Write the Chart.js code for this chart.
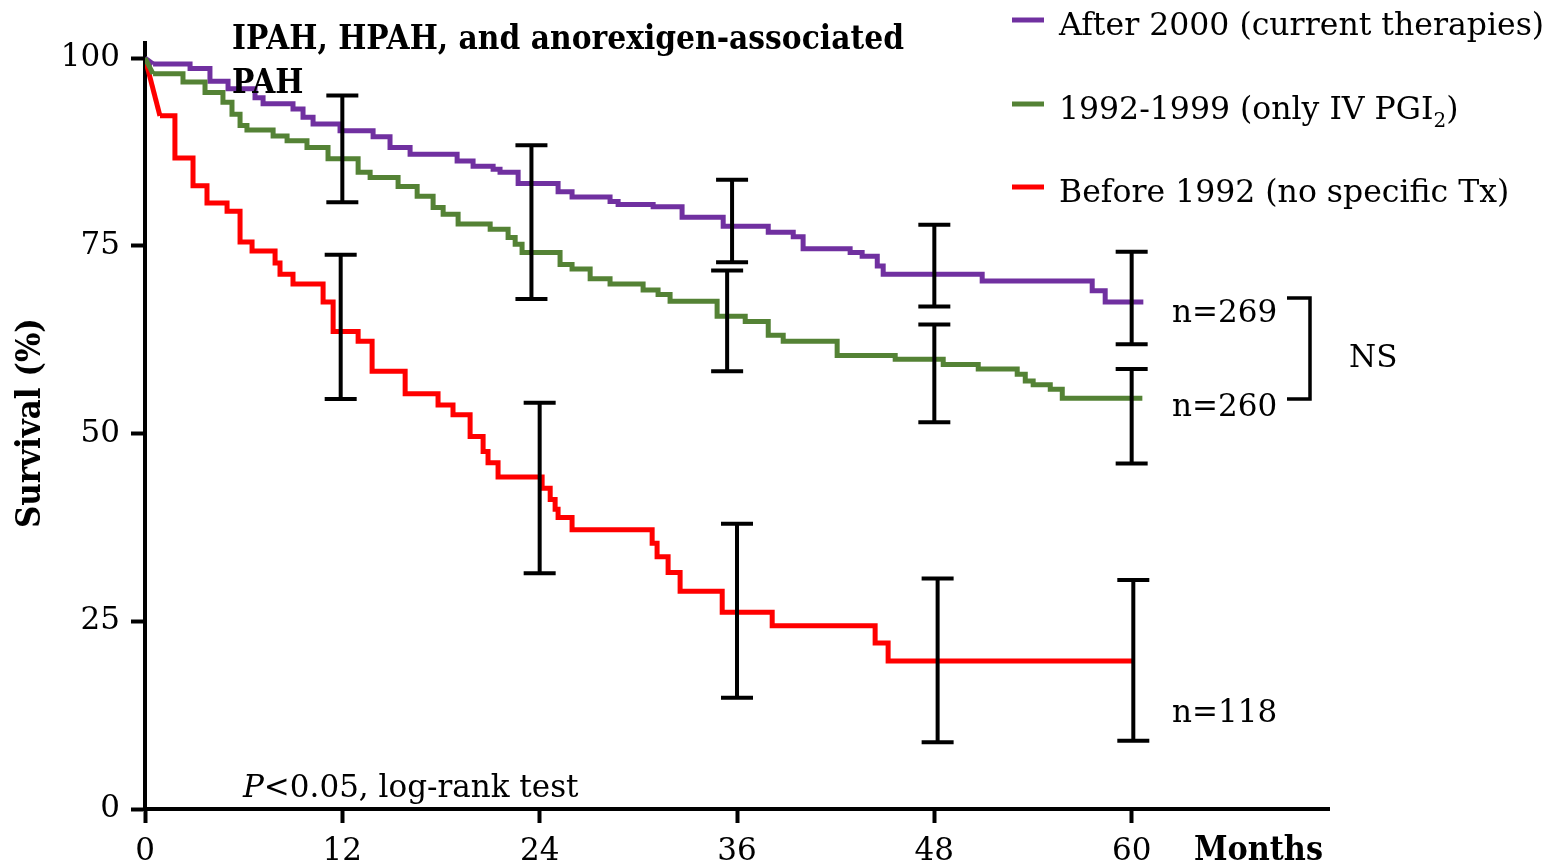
<!doctype html>
<html lang="en">
<head>
<meta charset="utf-8">
<title>Survival by treatment era</title>
<script src="https://cdn.jsdelivr.net/npm/chart.js@4.4.1/dist/chart.umd.min.js"></script>
<style>
  html, body { margin: 0; padding: 0; background: #fff; }
  #wrap { width: 1552px; height: 868px; }
</style>
</head>
<body>
<div id="wrap"><canvas id="km" width="1552" height="868"></canvas></div>
<script>
// Kaplan-Meier curves: month of each drop and the survival (%) after it
var afterMonths = [0.49, 2.74, 3.95, 5.05, 6.69, 7.18, 9.00, 9.61, 10.22, 11.86, 13.87, 14.90, 16.12, 18.98, 19.95, 21.17, 21.59, 22.69, 25.12, 25.97, 28.28, 28.77, 30.90, 32.66, 35.16, 37.90, 39.42, 40.02, 42.88, 43.61, 44.53, 44.89, 50.91, 57.60, 58.39, 60.71];
var afterSurv   = [99.2, 98.6, 96.9, 95.9, 94.7, 93.9, 93.2, 92.1, 91.2, 90.3, 89.5, 88.1, 87.2, 86.3, 85.6, 85.2, 84.8, 83.3, 82.2, 81.5, 80.9, 80.5, 80.2, 78.8, 77.6, 76.8, 76.2, 74.6, 74.1, 73.6, 72.3, 71.2, 70.3, 69.0, 67.5, 67.5];

var midMonths = [0.49, 2.31, 3.65, 4.74, 5.29, 5.78, 6.20, 7.79, 8.64, 9.85, 11.13, 12.96, 13.69, 15.39, 16.55, 17.52, 18.13, 19.04, 20.99, 22.08, 22.51, 22.93, 25.24, 25.97, 27.07, 28.28, 30.29, 31.20, 31.93, 34.79, 36.50, 37.90, 38.81, 42.09, 45.62, 48.54, 50.67, 53.04, 53.53, 54.01, 55.05, 55.78, 60.65];
var midSurv   = [97.9, 96.8, 95.4, 94.1, 92.5, 91.0, 90.4, 89.6, 89.0, 88.1, 86.6, 84.8, 84.1, 82.9, 81.6, 80.1, 79.2, 77.9, 77.2, 76.1, 75.2, 74.1, 72.5, 71.9, 70.6, 69.9, 69.1, 68.5, 67.6, 65.6, 64.9, 63.1, 62.3, 60.4, 59.9, 59.2, 58.6, 57.9, 57.0, 56.5, 55.9, 54.7, 54.7];

var beforeMonths = [0.91, 1.82, 2.92, 3.77, 4.99, 5.78, 6.51, 7.91, 8.21, 9.00, 10.83, 11.44, 12.96, 13.81, 15.82, 17.82, 18.73, 19.77, 20.56, 20.86, 21.47, 24.15, 24.64, 24.94, 25.12, 25.97, 30.84, 31.14, 31.81, 32.54, 35.10, 38.14, 44.40, 45.19, 60.10];
var beforeSurv   = [92.3, 86.7, 83.0, 80.7, 79.6, 75.5, 74.3, 72.7, 71.2, 69.9, 67.5, 63.6, 62.3, 58.3, 55.3, 53.8, 52.5, 49.6, 47.6, 46.1, 44.2, 42.7, 41.2, 39.9, 38.8, 37.2, 35.4, 33.6, 31.5, 29.0, 26.2, 24.4, 22.1, 19.7, 19.7];

// confidence bars (survival %)
var errMonth = [12.0, 11.9, 23.5, 24.0, 35.7, 35.4, 36.0, 48.0, 48.0, 48.2, 60.0, 60.0, 60.1];
var errHigh  = [95.0, 73.8, 88.4, 54.1, 83.8, 71.7, 38.0, 77.8, 64.5, 30.7, 74.2, 58.6, 30.5];
var errLow   = [80.8, 54.6, 67.9, 31.4, 72.8, 58.3, 14.8, 66.9, 51.5, 8.9, 61.9, 46.0, 9.1];

var seriesLabels = ["After 2000 (current therapies)", "1992-1999 (only IV PGI", "Before 1992 (no specific Tx)"];
var seriesColors = ["#7030a0", "#548235", "#ff0000"];
var xTicks = [0, 12, 24, 36, 48, 60];
var yTicks = [0, 25, 50, 75, 100];

var SERIF = '"DejaVu Serif", serif';

function pts(months, surv) {
  return months.map(function (m, i) { return { x: m, y: surv[i] }; });
}
function leadIn(months, surv) {
  return [{ x: 0, y: 100 }, { x: months[0], y: surv[0] }];
}

function curve(label, color, data) {
  return { label: label, data: data, borderColor: color, borderWidth: 5, pointRadius: 0, stepped: 'before', fill: false };
}
function lead(color, data) {
  return { label: '', data: data, borderColor: color, borderWidth: 5, pointRadius: 0, fill: false };
}

function drawText(ctx, txt, x, y, font, squeeze, align) {
  ctx.save();
  ctx.font = font;
  ctx.fillStyle = '#000';
  ctx.textBaseline = 'alphabetic';
  ctx.textAlign = align || 'left';
  ctx.translate(x, y);
  ctx.scale(squeeze || 1, 1);
  ctx.fillText(txt, 0, 0);
  ctx.restore();
}

var extras = {
  id: 'extras',
  afterDatasetsDraw: function (chart) {
    var ctx = chart.ctx, xs = chart.scales.x, ys = chart.scales.y;
    ctx.save();
    ctx.strokeStyle = '#000';
    ctx.lineWidth = 4;
    for (var i = 0; i < errMonth.length; i++) {
      var x = xs.getPixelForValue(errMonth[i]);
      var yh = ys.getPixelForValue(errHigh[i]);
      var yl = ys.getPixelForValue(errLow[i]);
      ctx.beginPath();
      ctx.moveTo(x, yh); ctx.lineTo(x, yl);
      ctx.moveTo(x - 16, yh); ctx.lineTo(x + 16, yh);
      ctx.moveTo(x - 16, yl); ctx.lineTo(x + 16, yl);
      ctx.stroke();
    }
    ctx.restore();
  },
  afterDraw: function (chart) {
    var ctx = chart.ctx;
    var bold = 'bold 33px ' + SERIF;
    var reg = '31px ' + SERIF;
    var leg = '31.5px ' + SERIF;

    // title
    ctx.save();
    ctx.font = bold;
    var sq = 672 / ctx.measureText('IPAH, HPAH, and anorexigen-associated').width;
    ctx.restore();
    drawText(ctx, 'IPAH, HPAH, and anorexigen-associated', 232, 49, bold, sq);
    drawText(ctx, 'PAH', 232, 93, bold, sq);

    // legend
    var legY = [20, 104, 187];
    for (var i = 0; i < 3; i++) {
      ctx.save();
      ctx.strokeStyle = seriesColors[i];
      ctx.lineWidth = 5;
      ctx.beginPath();
      ctx.moveTo(1012, legY[i]); ctx.lineTo(1044, legY[i]);
      ctx.stroke();
      ctx.restore();
      drawText(ctx, seriesLabels[i], 1059, legY[i] + 15, leg);
    }
    ctx.save();
    ctx.font = leg;
    var w = ctx.measureText(seriesLabels[1]).width;
    ctx.font = '20px ' + SERIF;
    var ws = ctx.measureText('2').width;
    ctx.restore();
    drawText(ctx, '2', 1059 + w, legY[1] + 23, '20px ' + SERIF);
    drawText(ctx, ')', 1059 + w + ws, legY[1] + 15, leg);

    // axis titles
    ctx.save();
    ctx.font = bold;
    ctx.fillStyle = '#000';
    ctx.textAlign = 'center';
    ctx.textBaseline = 'middle';
    ctx.translate(31, 423);
    ctx.rotate(-Math.PI / 2);
    ctx.scale(210 / ctx.measureText('Survival (%)').width, 1);
    ctx.fillText('Survival (%)', 0, 0);
    ctx.restore();
    drawText(ctx, 'Months', 1323, 860, bold, 0.92, 'right');

    // log-rank note
    ctx.save();
    ctx.font = 'italic 31px ' + SERIF;
    var wp = ctx.measureText('P').width;
    ctx.restore();
    drawText(ctx, 'P', 243, 797, 'italic 31px ' + SERIF);
    drawText(ctx, '<0.05, log-rank test', 243 + wp, 797, reg);

    // group sizes
    drawText(ctx, 'n=269', 1172, 322, reg);
    drawText(ctx, 'n=260', 1172, 416, reg);
    drawText(ctx, 'n=118', 1172, 722, reg);
    drawText(ctx, 'NS', 1349, 367, reg);
    ctx.save();
    ctx.strokeStyle = '#000';
    ctx.lineWidth = 3.5;
    ctx.beginPath();
    ctx.moveTo(1287, 298); ctx.lineTo(1310, 298); ctx.lineTo(1310, 399); ctx.lineTo(1287, 399);
    ctx.stroke();
    ctx.restore();
  }
};

var ctx = document.getElementById('km').getContext('2d');
var chart = new Chart(ctx, {
  type: 'line',
  data: {
    datasets: [
      curve(seriesLabels[1], seriesColors[1], pts(midMonths, midSurv)),
      curve(seriesLabels[0], seriesColors[0], pts(afterMonths, afterSurv)),
      curve(seriesLabels[2], seriesColors[2], pts(beforeMonths, beforeSurv)),
      lead(seriesColors[1], leadIn(midMonths, midSurv)),
      lead(seriesColors[0], leadIn(afterMonths, afterSurv)),
      lead(seriesColors[2], leadIn(beforeMonths, beforeSurv))
    ]
  },
  options: {
    responsive: false,
    maintainAspectRatio: false,
    devicePixelRatio: 1,
    animation: false,
    layout: { padding: { left: 0, top: 43, right: 223, bottom: 0 } },
    plugins: { legend: { display: false }, tooltip: { enabled: false } },
    scales: {
      x: {
        type: 'linear', min: 0, max: 72,
        afterBuildTicks: function (s) { s.ticks = xTicks.map(function (v) { return { value: v }; }); },
        afterFit: function (s) { s.height = 59; },
        ticks: { color: '#000', font: { family: SERIF, size: 31 }, padding: 10, maxRotation: 0 },
        grid: { display: true, drawOnChartArea: false, drawTicks: true, tickLength: 14, tickWidth: 4, tickColor: '#000' },
        border: { display: true, color: '#000', width: 4 }
      },
      y: {
        type: 'linear', min: 0, max: 102,
        afterBuildTicks: function (s) { s.ticks = yTicks.map(function (v) { return { value: v }; }); },
        afterFit: function (s) { s.width = 145; },
        ticks: { color: '#000', font: { family: SERIF, size: 31 }, padding: 11 },
        grid: { display: true, drawOnChartArea: false, drawTicks: true, tickLength: 14, tickWidth: 4, tickColor: '#000' },
        border: { display: true, color: '#000', width: 4 }
      }
    }
  },
  plugins: [extras]
});
</script>
</body>
</html>
